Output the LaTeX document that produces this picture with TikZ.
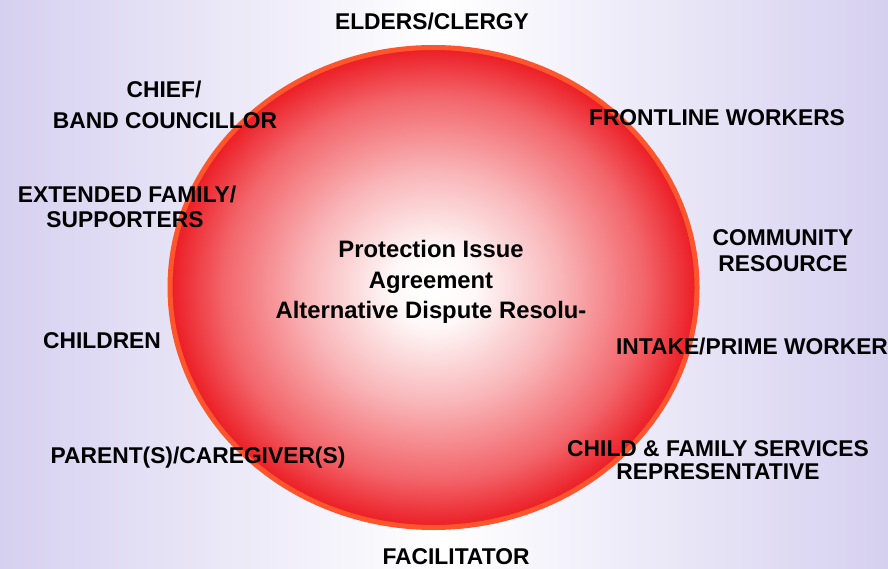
\documentclass[tikz,border=0pt]{standalone}
\usepackage{fontspec}
\setmainfont{Liberation Sans}
\definecolor{ballred}{RGB}{236,28,36}
\definecolor{rimred}{RGB}{255,85,45}
\definecolor{lavbg}{RGB}{214,208,240}
\pgfdeclareradialshading{ballglow}{\pgfpoint{0bp}{0bp}}{%
  color(0bp)=(white); color(4bp)=(white!97!ballred);
  color(12bp)=(white!68!ballred); color(20bp)=(white!32!ballred);
  color(25bp)=(ballred); color(50bp)=(ballred)}
\newcommand\lblfont{\fontsize{22.8}{27}\selectfont\bfseries}
\newcommand\issuefont{\fontsize{23.8}{30}\selectfont\bfseries}

\begin{document}
\begin{tikzpicture}[x=1pt,y=-1pt]
\tikzset{lbl/.style={anchor=base, font=\lblfont, inner sep=0pt},
         issueline/.style={anchor=base, font=\issuefont, inner sep=0pt}}
\useasboundingbox (0,0) rectangle (888,569);
\shade[left color=lavbg, right color=lavbg, middle color=white] (0,0) rectangle (888,569);
\shade[shading=ballglow] (433.5,287.5) ellipse [x radius=263.5pt, y radius=240pt];
\draw[rimred, line width=5pt] (433.5,287.5) ellipse [x radius=263.5pt, y radius=240pt];
% centre
\node[issueline] (issue1) at (431,258) {Protection Issue};
\node[issueline] (issue2) at (431,288) {Agreement};
\node[issueline] (issue3) at (431,318) {Alternative Dispute Resolu-};
% people round the table
\node[lbl] (elders) at (432,29.5) {ELDERS/CLERGY};
\node[lbl] (chief1) at (164,97.7) {CHIEF/};
\node[lbl] (chief2) at (165,128.3) {BAND COUNCILLOR};
\node[lbl] (front) at (717,126) {FRONTLINE WORKERS};
\node[lbl] (extfam1) at (127,203) {EXTENDED FAMILY/};
\node[lbl] (extfam2) at (125,228) {SUPPORTERS};
\node[lbl] (comres1) at (783,246) {COMMUNITY};
\node[lbl] (comres2) at (783,272) {RESOURCE};
\node[lbl] (children) at (102,348) {CHILDREN};
\node[lbl] (intake) at (752,354) {INTAKE/PRIME WORKER};
\node[lbl] (parents) at (198,463.3) {PARENT(S)/CAREGIVER(S)};
\node[lbl] (cfsrep1) at (718,456.7) {CHILD \& FAMILY SERVICES};
\node[lbl] (cfsrep2) at (718,479.3) {REPRESENTATIVE};
\node[lbl] (facil) at (456,564.3) {FACILITATOR};
\end{tikzpicture}
\end{document}
